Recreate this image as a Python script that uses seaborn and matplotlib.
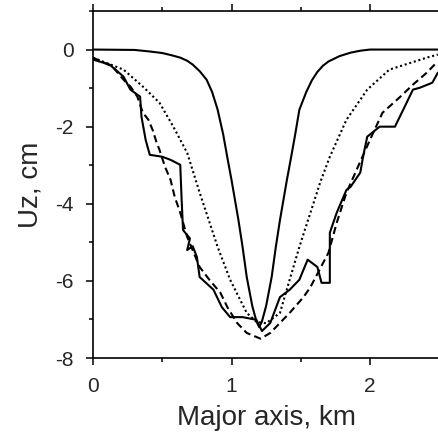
import numpy as np
import pandas as pd
import seaborn as sns
import matplotlib
matplotlib.use("Agg")
import matplotlib.pyplot as plt
from matplotlib.ticker import MultipleLocator

# narrow smooth solid curve
narrow_x = [0.0, 0.30, 0.41, 0.50, 0.57, 0.63, 0.68, 0.72, 0.77, 0.82, 0.86, 0.90, 0.94, 0.97, 1.00, 1.05,
            1.08, 1.11, 1.15, 1.18, 1.20, 1.22, 1.25, 1.29, 1.32, 1.35, 1.40, 1.43, 1.46, 1.49, 1.54,
            1.58, 1.62, 1.66, 1.70, 1.78, 1.86, 1.93, 2.00, 2.50]
narrow_y = [0.0, -0.01, -0.05, -0.09, -0.15, -0.21, -0.29, -0.39, -0.56, -0.78, -1.10, -1.56, -2.20, -2.80, -3.38, -4.42,
            -5.12, -5.90, -6.65, -7.05, -7.2, -7.05, -6.65, -5.90, -5.12, -4.42, -3.38, -2.80, -2.20, -1.56, -1.10,
            -0.80, -0.58, -0.42, -0.31, -0.17, -0.08, -0.03, 0.0, 0.0]

# dotted curve
dot_x = [0.0, 0.22, 0.36, 0.48, 0.58, 0.68, 0.77, 0.90, 0.99, 1.11, 1.18, 1.25, 1.35, 1.42, 1.49,
         1.57, 1.64, 1.71, 1.83, 1.98, 2.14, 2.41, 2.49]
dot_y = [-0.21, -0.52, -0.96, -1.38, -2.0, -2.68, -3.71, -5.12, -5.97, -6.83, -7.06, -7.1, -6.83, -5.97, -5.12,
         -4.23, -3.45, -2.78, -1.82, -1.04, -0.52, -0.21, -0.13]

# jagged solid curve
rough_x = [0.0, 0.12, 0.22, 0.27, 0.34, 0.35, 0.38, 0.41, 0.50, 0.56, 0.63, 0.64, 0.65, 0.70, 0.68, 0.72,
           0.75, 0.77, 0.87, 0.93, 0.99, 1.08, 1.18, 1.22, 1.28, 1.35, 1.42, 1.49, 1.55, 1.62, 1.65, 1.71,
           1.71, 1.76, 1.83, 1.86, 1.93, 1.95, 1.98, 2.07, 2.18, 2.24, 2.31, 2.36, 2.45, 2.49]
rough_y = [-0.26, -0.39, -0.70, -1.04, -1.22, -1.74, -2.34, -2.73, -2.78, -2.86, -2.99, -3.90, -4.68, -4.9, -5.2, -5.1,
           -5.38, -5.90, -6.23, -6.68, -6.94, -6.94, -7.01, -7.3, -7.09, -6.42, -6.23, -5.97, -5.45, -5.64, -6.05, -6.05,
           -4.75, -4.23, -3.64, -3.56, -3.19, -2.78, -2.26, -2.00, -2.00, -1.56, -1.04, -0.99, -0.86, -0.60]

# dashed curve
dash_x = [0.0, 0.14, 0.22, 0.27, 0.32, 0.36, 0.40, 0.43, 0.46, 0.48, 0.52, 0.56, 0.59, 0.63, 0.68, 0.77,
          0.84, 0.92, 0.97, 1.04, 1.11, 1.21, 1.28, 1.42, 1.52, 1.57, 1.70, 1.76, 1.83, 2.00, 2.09, 2.22,
          2.31, 2.41, 2.48]
dash_y = [-0.21, -0.44, -0.78, -0.96, -1.22, -1.64, -1.82, -2.08, -2.42, -2.60, -3.04, -3.38, -3.82, -4.23, -4.86, -5.64,
          -5.97, -6.31, -6.68, -7.09, -7.35, -7.5, -7.35, -6.83, -6.42, -6.16, -5.27, -4.49, -3.71, -2.34, -1.64, -1.22,
          -0.91, -0.60, -0.34]

sns.set_style("ticks")
plt.rcParams['font.family'] = ['Liberation Sans', 'DejaVu Sans']
plt.rcParams['axes.unicode_minus'] = False

fig = plt.figure(figsize=(4.38, 4.43), dpi=100)
ax = fig.add_axes([93 / 438, 85 / 443, 2.5 * 138.5 / 438, 347 / 443])

curves = [
    (narrow_x, narrow_y, "-"),
    (dot_x, dot_y, (0, (1, 1.3))),
    (rough_x, rough_y, "-"),
    (dash_x, dash_y, (0, (3.5, 2))),
]
for xs, ys, ls in curves:
    df = pd.DataFrame({"x": xs, "y": ys})
    sns.lineplot(data=df, x="x", y="y", ax=ax, sort=False, estimator=None,
                 color="black", linewidth=1.5, linestyle=ls)

ax.set_xlim(0, 2.5)
ax.set_ylim(-8, 1)
ax.xaxis.set_major_locator(MultipleLocator(1))
ax.xaxis.set_minor_locator(MultipleLocator(0.5))
ax.yaxis.set_major_locator(MultipleLocator(2))
ax.yaxis.set_minor_locator(MultipleLocator(1))
ax.tick_params(which="both", direction="out", width=1.1, color="black",
               top=True, labeltop=False, labelsize=15, pad=9)
ax.tick_params(which="major", length=5)
ax.tick_params(which="minor", length=3)
ax.spines["right"].set_visible(False)
for s in ["left", "bottom", "top"]:
    ax.spines[s].set_linewidth(1.2)
    ax.spines[s].set_color("black")

ax.set_xlabel("Major axis, km", fontsize=20, labelpad=6)
ax.set_ylabel("Uz, cm", fontsize=20, labelpad=8)

fig.savefig("out.png", dpi=100)
